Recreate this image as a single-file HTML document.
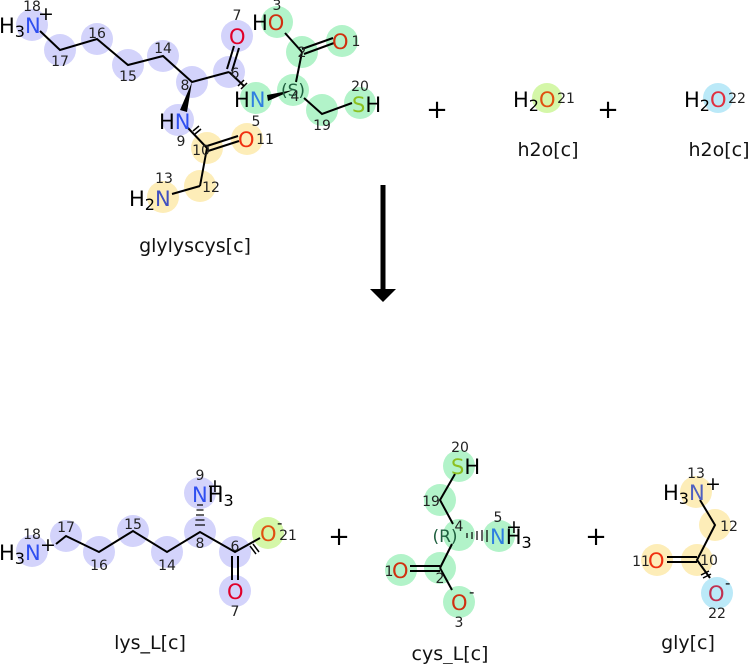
<!DOCTYPE html>
<html><head><meta charset="utf-8"><style>body{margin:0;background:#fff}svg{display:block}text{font-family:"DejaVu Sans","Liberation Sans",sans-serif}</style></head><body>
<svg width="750" height="664" viewBox="0 0 750 664" xmlns="http://www.w3.org/2000/svg">
<g>
<g fill="#d3d3fb">
<circle cx="32" cy="25" r="16"/><circle cx="60" cy="50" r="16"/><circle cx="97" cy="39" r="16"/><circle cx="128" cy="65" r="16"/><circle cx="163" cy="56" r="16"/><circle cx="192" cy="82" r="16"/><circle cx="229" cy="72" r="16"/><circle cx="237" cy="36" r="16"/><circle cx="178" cy="120" r="16"/>
<circle cx="32" cy="551" r="16"/><circle cx="66" cy="536" r="16"/><circle cx="99" cy="552" r="16"/><circle cx="133" cy="531" r="16"/><circle cx="167" cy="552" r="16"/><circle cx="200" cy="532" r="16"/><circle cx="200" cy="493" r="16"/><circle cx="235" cy="552" r="16"/><circle cx="235" cy="591" r="16"/>
</g>
<g fill="#b2f3c9">
<circle cx="256" cy="98" r="16"/><circle cx="293" cy="90" r="16"/><circle cx="302" cy="52" r="16"/><circle cx="342" cy="41" r="16"/><circle cx="277" cy="22" r="16"/><circle cx="322" cy="110" r="16"/><circle cx="360" cy="103" r="16"/>
<circle cx="459" cy="466" r="16"/><circle cx="440" cy="500" r="16"/><circle cx="459" cy="535" r="16"/><circle cx="499" cy="536" r="16"/><circle cx="440" cy="568" r="16"/><circle cx="401" cy="570" r="16"/><circle cx="459" cy="602" r="16"/>
</g>
<g fill="#fdedb8">
<circle cx="207" cy="148" r="16"/><circle cx="247" cy="139" r="16"/><circle cx="200" cy="186" r="16"/><circle cx="163" cy="197" r="16"/>
<circle cx="696" cy="492" r="16"/><circle cx="715" cy="525" r="16"/><circle cx="697" cy="560" r="16"/><circle cx="657" cy="560" r="16"/>
</g>
<circle cx="547" cy="98" r="15" fill="#d4f7a8"/><circle cx="268" cy="533" r="16" fill="#d4f7a8"/>
<circle cx="718" cy="98" r="15" fill="#bbe9f8"/><circle cx="717" cy="593" r="16" fill="#bbe9f8"/>
</g>
<g stroke="#000" stroke-width="2" fill="none">
<polyline points="40,31 60,50 97,39 128,65 163,56 192,82 229,72"/>
<line x1="229" y1="72" x2="244" y2="86"/>
<line x1="227" y1="69" x2="234" y2="46"/><line x1="232" y1="71" x2="239" y2="48"/>
<line x1="302" y1="52" x2="285" y2="33"/><line x1="302" y1="52" x2="296" y2="82"/>
<line x1="302" y1="49" x2="333" y2="38"/><line x1="304" y1="54" x2="334" y2="43"/>
<polyline points="304,98 322,114 352,103"/>
<line x1="188" y1="128" x2="207" y2="148"/>
<line x1="207" y1="146" x2="238" y2="136"/><line x1="208" y1="151" x2="239" y2="141"/>
<line x1="207" y1="148" x2="200" y2="186"/><line x1="200" y1="186" x2="172" y2="194"/>
<polyline points="56,544 66,536 99,552 133,531 167,552 200,532 235,552 260,538"/>
<line x1="232" y1="556" x2="232" y2="580"/><line x1="238" y1="556" x2="238" y2="580"/>
<polyline points="455,474 440,500 453,524"/>
<line x1="452" y1="544" x2="440" y2="568"/><line x1="440" y1="568" x2="452" y2="590"/>
<line x1="410" y1="566" x2="440" y2="566"/><line x1="410" y1="571" x2="440" y2="571"/>
<polyline points="700,500 715,525 697,560 710,578"/>
<line x1="667" y1="557" x2="697" y2="557"/><line x1="667" y1="562" x2="697" y2="562"/>
</g>
<g stroke="#000" stroke-width="1.5">
<line x1="238" y1="86" x2="244" y2="80"/><line x1="241" y1="89" x2="247" y2="83"/>
<line x1="193" y1="131" x2="199" y2="126"/><line x1="195" y1="134" x2="201" y2="129"/>
<line x1="250" y1="546" x2="256" y2="554"/><line x1="253" y1="544" x2="259" y2="552"/>
<line x1="701" y1="575" x2="709" y2="571"/><line x1="703" y1="578" x2="711" y2="574"/>
</g>
<polygon points="192,82 180,110 187,112" fill="#000"/>
<polygon points="293,90 267,95 268,101" fill="#000"/>
<g stroke="#000" stroke-width="1.2">
<line x1="197" y1="505" x2="203" y2="505"/><line x1="196.5" y1="510" x2="203.5" y2="510"/><line x1="196" y1="515" x2="204" y2="515"/><line x1="195.5" y1="520" x2="204.5" y2="520"/><line x1="195" y1="525" x2="205" y2="525"/>
<line x1="467" y1="533" x2="467" y2="538"/><line x1="472" y1="532" x2="472" y2="539"/><line x1="477" y1="531" x2="477" y2="540"/><line x1="482" y1="530" x2="482" y2="541"/><line x1="487" y1="530" x2="487" y2="542"/>
</g>
<g font-size="21">
<text x="-1" y="33">H<tspan font-size="16" dy="4">3</tspan><tspan dy="-4" fill="#2f4ff0">N</tspan></text>
<text x="38" y="20" font-size="19">+</text>
<text x="229" y="44" fill="#e0002a">O</text>
<text x="252" y="30">H<tspan fill="#d03010">O</tspan></text>
<text x="332" y="49" fill="#d03010">O</text>
<text x="234" y="107">H<tspan fill="#2f7fe0">N</tspan></text>
<text x="159" y="129">H<tspan fill="#2f4ff0">N</tspan></text>
<text x="238" y="147" fill="#f03010">O</text>
<text x="129" y="206">H<tspan font-size="16" dy="4">2</tspan><tspan dy="-4" fill="#4050c0">N</tspan></text>
<text x="352" y="112"><tspan fill="#8cc020">S</tspan>H</text>
<text x="513" y="107">H<tspan font-size="16" dy="4">2</tspan><tspan dy="-4" fill="#e05010">O</tspan></text>
<text x="684" y="107">H<tspan font-size="16" dy="4">2</tspan><tspan dy="-4" fill="#e03040">O</tspan></text>
<text x="-1" y="560">H<tspan font-size="16" dy="4">3</tspan><tspan dy="-4" fill="#2f4ff0">N</tspan></text>
<text x="40" y="551" font-size="19">+</text>
<text x="192" y="502"><tspan fill="#2f4ff0">N</tspan>H<tspan font-size="16" dy="4">3</tspan></text>
<text x="207" y="492" font-size="19">+</text>
<text x="260" y="541" fill="#e05010">O</text><text x="277" y="528" font-size="15">-</text>
<text x="227" y="599" fill="#e0002a">O</text>
<text x="451" y="474"><tspan fill="#8cc020">S</tspan>H</text>
<text x="490" y="544"><tspan fill="#2f7fe0">N</tspan>H<tspan font-size="16" dy="4">3</tspan></text>
<text x="506" y="533" font-size="19">+</text>
<text x="392" y="578" fill="#d03010">O</text>
<text x="451" y="610" fill="#d03010">O</text><text x="469" y="597" font-size="15">-</text>
<text x="663" y="500">H<tspan font-size="16" dy="4">3</tspan><tspan dy="-4" fill="#5060c0">N</tspan></text>
<text x="705" y="490" font-size="19">+</text>
<text x="648" y="568" fill="#f03010">O</text>
<text x="708" y="601" fill="#c03050">O</text><text x="725" y="588" font-size="15">-</text>
<text x="445" y="542" fill="#206040" font-size="17" text-anchor="middle">(R)</text>
<text x="293" y="96" fill="#206040" font-size="17" text-anchor="middle">(S)</text>
</g>
<g font-size="14" fill="#222" text-anchor="middle">
<text x="32" y="11">18</text><text x="60" y="66">17</text><text x="97" y="38">16</text><text x="128" y="81">15</text><text x="163" y="53">14</text><text x="185" y="90">8</text><text x="235" y="78">6</text><text x="237" y="20">7</text><text x="277" y="10">3</text><text x="356" y="46">1</text><text x="302" y="57">2</text><text x="295" y="101">4</text><text x="256" y="126">5</text><text x="322" y="130">19</text><text x="360" y="91">20</text><text x="181" y="146">9</text><text x="201" y="155">10</text><text x="265" y="144">11</text><text x="211" y="192">12</text><text x="164" y="183">13</text>
<text x="566" y="103">21</text><text x="737" y="103">22</text>
<text x="32" y="539">18</text><text x="66" y="532">17</text><text x="99" y="570">16</text><text x="133" y="529">15</text><text x="167" y="570">14</text><text x="200" y="548">8</text><text x="200" y="480">9</text><text x="235" y="551">6</text><text x="235" y="616">7</text><text x="288" y="540">21</text>
<text x="460" y="452">20</text><text x="431" y="506">19</text><text x="459" y="531">4</text><text x="498" y="522">5</text><text x="440" y="583">2</text><text x="389" y="576">1</text><text x="459" y="627">3</text>
<text x="696" y="478">13</text><text x="729" y="531">12</text><text x="709" y="565">10</text><text x="641" y="566">11</text><text x="717" y="618">22</text>
</g>
<g font-size="19" text-anchor="middle" fill="#111">
<text x="195" y="252">glylyscys[c]</text><text x="548" y="156">h2o[c]</text><text x="719" y="156">h2o[c]</text>
<text x="150" y="649">lys_L[c]</text><text x="450" y="660">cys_L[c]</text><text x="688" y="649">gly[c]</text>
</g>
<g font-size="26" text-anchor="middle"><text x="437" y="118">+</text><text x="608" y="118">+</text><text x="339" y="545">+</text><text x="596" y="545">+</text></g>
<line x1="383" y1="185" x2="383" y2="290" stroke="#000" stroke-width="5"/>
<polygon points="370,289 396,289 383,302" fill="#000"/>
</svg>
</body></html>
